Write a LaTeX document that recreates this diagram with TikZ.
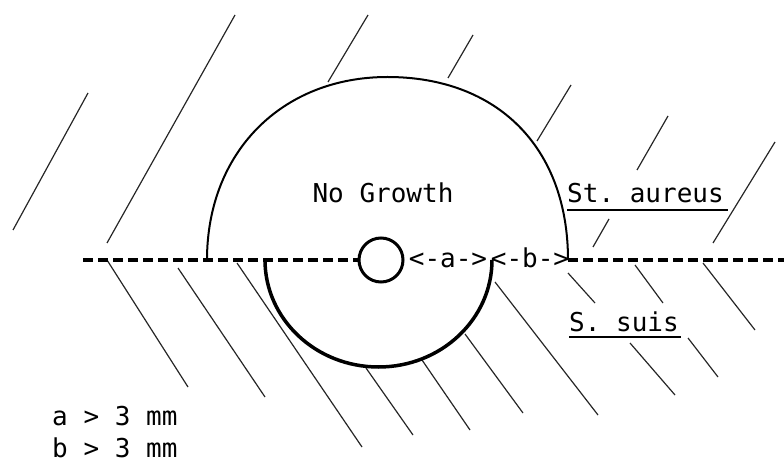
\documentclass[tikz,border=0pt]{standalone}
\usepackage{fontspec}
\setmonofont{DejaVu Sans Mono}
\usepackage{tikz}
\usetikzlibrary{positioning}

\begin{document}
\begin{tikzpicture}[x=1pt,y=-1pt,
    every node/.style={font=\ttfamily\fontsize{26}{30}\selectfont, inner sep=0pt},
    hatch/.style={line width=1.2pt, black!85},
    zone/.style={line width=2pt},
    dashline/.style={line width=3.2pt, dash pattern=on 10pt off 5pt}]
  \useasboundingbox (0,0) rectangle (784,462);

  % hatching, growth above (St. aureus)
  \foreach \xa/\ya/\xb/\yb in {13/230/88/93, 107/243/235/15, 328/82/368/15, 448/78/473/35,
                               537/141/571/85, 637/170/668/116, 713/243/775/142, 593/247/609/219}
    \draw[hatch] (\xa,\ya) -- (\xb,\yb);
  % hatching, growth below (S. suis)
  \foreach \xa/\ya/\xb/\yb in {107/260/188/387, 178/268/265/397, 237/263/362/447, 366/368/413/435,
                               422/360/470/430, 465/334/523/413, 495/282/598/415, 568/273/595/303,
                               630/343/675/395, 635/265/663/303, 688/338/718/377, 703/263/755/330}
    \draw[hatch] (\xa,\ya) -- (\xb,\yb);

  % disc and distances
  \node[circle, draw, line width=3pt, minimum size=44pt] (disc) at (381,260) {};
  \node[anchor=base] (ta) at (448,268) {<-a->};
  \node[anchor=base] (tb) at (530,268) {<-b->};
  \coordinate (lend) at (83,260);
  \coordinate (rend) at (784,260);
  \coordinate (redge) at (568,260);
  \draw[dashline] (lend) -- (disc.west);
  \draw[dashline] (redge) -- (rend);

  % inhibition zones
  \draw[zone] (207,260) .. controls (207,152) and (282,77) .. (387.5,77)
                        .. controls (497,77) and (568,147) .. (redge);
  \draw[line width=3.5pt] (265,260) arc[start angle=180, end angle=0, x radius=113.5, y radius=107];

  % labels
  \node[anchor=base] (nogrowth) at (383,203) {No Growth};
  \node[anchor=base west] (aureus) at (567,203) {St. aureus};
  \node[anchor=base west] (suis) at (569,331) {S. suis};
  \draw[line width=1.8pt] ([yshift=-7pt]aureus.base west) -- ([xshift=4pt,yshift=-7pt]aureus.base east);
  \draw[line width=1.8pt] ([yshift=-6pt]suis.base west) -- ([xshift=2pt,yshift=-6pt]suis.base east);
  \node[anchor=base west] (lega) at (52,425) {a > 3 mm};
  \node[anchor=base west] (legb) at (52,457) {b > 3 mm};
\end{tikzpicture}
\end{document}
